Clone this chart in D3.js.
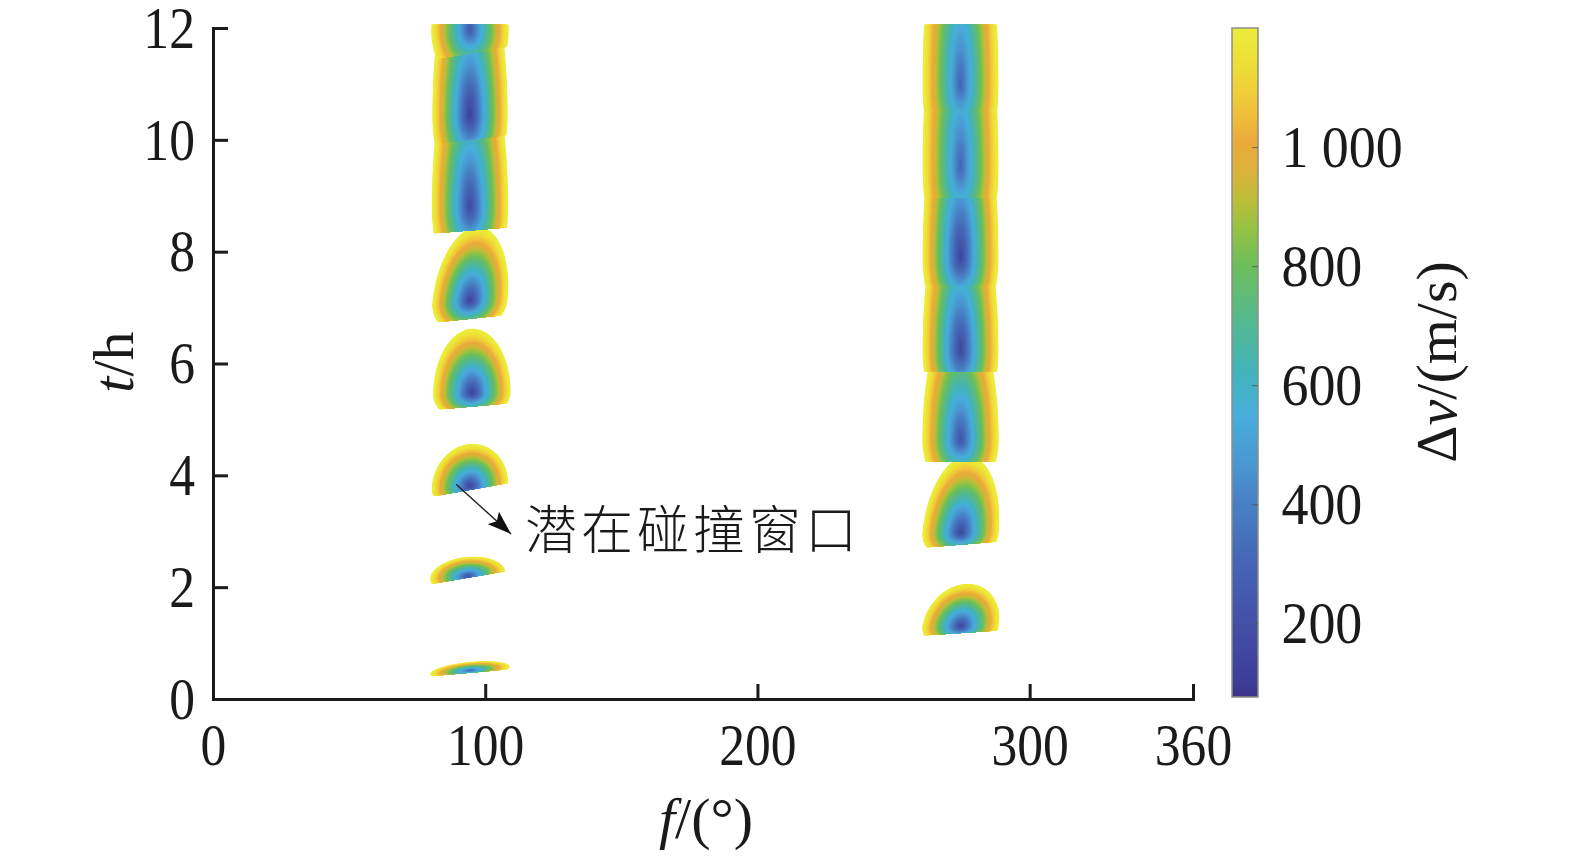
<!DOCTYPE html>
<html>
<head>
<meta charset="utf-8">
<script src="https://cdn.jsdelivr.net/npm/d3@7"></script>
<style>
  html, body { margin: 0; padding: 0; background: #fff; }
  svg { display: block; }
  .serif { font-family: 'Liberation Serif', 'Times New Roman', 'DejaVu Serif', serif; fill: #1a1a1a; }
</style>
</head>
<body>
<svg id="chart" width="1575" height="857"></svg>
<script>
// ---------------- data ----------------
const xTicks = [0, 100, 200, 300, 360];
const yTicks = [0, 2, 4, 6, 8, 10, 12];
const cbTicks = [200, 400, 600, 800, 1000];

// collision-window lobes (left column L1..L8, right column R1..R7)
const lobeF     = [94.4, 93.6, 94.4, 95.1, 94.4, 94.4, 94.4, 94.4, 274.6, 274.6, 274.6, 274.6, 274.6, 274.6, 274.6];
const lobeTMin  = [0.51, 2.20, 3.80, 5.47, 7.12, 8.80, 10.44, 11.95, 1.30, 2.97, 4.63, 6.24, 7.90, 9.51, 11.00];
const lobeVMin  = [320, 220, 150, 130, 140, 170, 120, 260, 160, 150, 220, 150, 140, 300, 300];
const lobeHalfW = [14.6, 13.8, 14.0, 14.2, 13.8, 14.0, 13.8, 14.2, 14.0, 14.0, 14.0, 13.9, 13.9, 13.9, 13.9];
const lobeUp    = [0.15, 0.34, 0.76, 1.15, 1.32, 3.0, 3.0, 3.0, 0.76, 1.38, 2.4, 3.0, 3.5, 4.0, 4.0];
const lobeDown  = [0.12, 0.30, 0.40, 0.50, 0.60, 1.5, 1.5, 1.0, 0.40, 0.50, 1.0, 1.5, 1.5, 2.0, 2.0];
const lobeBase  = [0.47, 2.17, 3.74, 5.23, 6.80, 8.38, 10.00, 11.55, 1.18, 2.76, 4.24, 5.85, 7.40, 8.96, 10.53];
const lobeTop   = [99, 99, 99, 99, 99, 10.06, 11.60, 99, 99, 99, 5.88, 7.42, 8.98, 10.55, 99];
const lobeTilt  = [0.0042, 0.0084, 0.0087, 0.0042, 0.0052, 0.004, 0.0063, 0.008, 0.0032, 0.0039, 0, 0, 0, 0, 0];
const lobeSkew  = [0.0045, 0.004, 0.004, 0.002, 0.002, 0, 0, 0, 0, 0, 0, 0, 0, 0, 0];
const lobeLean  = [0, 0, 0, 0, 2.0, 0, 0, 0, 3.5, 1.9, 0, 0, 0, 0, 0];

// colour map (Δv → colour)
const cbVals   = [76, 100, 200, 300, 400, 470, 550, 620, 700, 800, 860, 910, 960, 1010, 1060, 1130, 1200];
const cbColors = ["#3b3388", "#3d3d96", "#4350a6", "#4565b4", "#4880c4", "#4a98d2", "#48aedb", "#42b3bc",
                  "#52b894", "#6cbe5c", "#93c244", "#bcbe38", "#dcb23a", "#ebaa3b", "#f0c23a", "#eedc36", "#ecec3a"];
const vOuter = 1250;

// annotation
const annoText = "潜在碰撞窗口";
const annoF = 114.6, annoT = 2.68;
const arrowFrom = [89.3, 3.84], arrowTo = [109.5, 2.95];

// ---------------- layout ----------------
const svg = d3.select("#chart");
const x = d3.scaleLinear().domain([0, 360]).range([213, 1193]);
const y = d3.scaleLinear().domain([0, 12]).range([699, 28]);
const color = d3.scaleLinear().domain(cbVals).range(cbColors).interpolate(d3.interpolateRgb).clamp(true);
const cbY = d3.scaleLinear().domain([cbVals[0], cbVals[cbVals.length - 1]]).range([697, 28]);

const defs = svg.append("defs");

// ---------------- lobes ----------------
const plot = svg.append("g");
const line = d3.line().x(d => x(d[0])).y(d => y(d[1])).curve(d3.curveLinearClosed);
const N = 96;

lobeF.forEach((fc, i) => {
  const tilt = lobeTilt[i];
  const ext = 22;
  const topL = lobeTop[i] < 12 ? lobeTop[i] - tilt * ext : 12.06;
  const topR = lobeTop[i] < 12 ? lobeTop[i] + tilt * ext : 12.06;
  const clipPts = [
    [fc - ext, lobeBase[i] - tilt * ext],
    [fc + ext, lobeBase[i] + tilt * ext],
    [fc + ext, Math.min(topR, 12.06)],
    [fc - ext, Math.min(topL, 12.06)]
  ];
  defs.append("clipPath").attr("id", "lobeclip" + i)
    .append("path").attr("d", line(clipPts));

  const g = plot.append("g").attr("clip-path", `url(#lobeclip${i})`);
  const vMin = lobeVMin[i];
  const levels = d3.range(vOuter, vMin, -9);
  levels.forEach(v => {
    const s = (v - vMin) / (vOuter - vMin);
    const pts = d3.range(N).map(k => {
      const th = 2 * Math.PI * k / N;
      const c = Math.cos(th), sn = Math.sin(th);
      const dt = sn >= 0 ? s * lobeUp[i] * sn : s * lobeDown[i] * sn;
      const df = s * lobeHalfW[i] * c + lobeLean[i] * dt;
      return [fc + df, lobeTMin[i] + dt + lobeSkew[i] * df];
    });
    g.append("path").attr("d", line(pts)).attr("fill", color(v - 4.5));
  });
});

// ---------------- axes ----------------
const fontSize = 60;
const sx = 0.86;

const yAxis = svg.append("g").attr("transform", `translate(${x(0)},0)`)
  .call(d3.axisLeft(y).tickValues(yTicks).tickSizeInner(-15).tickSizeOuter(0).tickPadding(21));
const xAxis = svg.append("g").attr("transform", `translate(0,${y(0)})`)
  .call(d3.axisBottom(x).tickValues(xTicks).tickSizeInner(-15).tickSizeOuter(0).tickPadding(23));

[yAxis, xAxis].forEach(ax => {
  ax.select(".domain").attr("stroke", "#1a1a1a").attr("stroke-width", 3).attr("stroke-linecap", "square");
  ax.selectAll(".tick line").attr("stroke", "#1a1a1a").attr("stroke-width", 3);
  ax.selectAll(".tick text")
    .attr("class", "serif")
    .attr("font-size", fontSize)
    .attr("fill", "#1a1a1a")
    .attr("transform", `scale(${sx},1)`);
});

// axis titles
svg.append("text").attr("class", "serif").attr("font-size", 58)
  .attr("text-anchor", "middle")
  .attr("transform", "translate(133,362) rotate(-90)")
  .call(t => {
    t.append("tspan").attr("font-style", "italic").text("t");
    t.append("tspan").text("/h");
  });

svg.append("text").attr("class", "serif").attr("font-size", 58)
  .attr("text-anchor", "middle")
  .attr("x", 706).attr("y", 838)
  .call(t => {
    t.append("tspan").attr("font-style", "italic").text("f");
    t.append("tspan").text("/(°)");
  });

// ---------------- colour bar ----------------
const cbX = 1232, cbW = 26;
const grad = defs.append("linearGradient").attr("id", "cbgrad")
  .attr("x1", 0).attr("y1", 1).attr("x2", 0).attr("y2", 0);
cbVals.forEach((v, k) => {
  grad.append("stop")
    .attr("offset", (v - cbVals[0]) / (cbVals[cbVals.length - 1] - cbVals[0]))
    .attr("stop-color", cbColors[k]);
});
svg.append("rect").attr("x", cbX).attr("y", cbY(1200)).attr("width", cbW)
  .attr("height", cbY(cbVals[0]) - cbY(1200))
  .attr("fill", "url(#cbgrad)").attr("stroke", "#8f8f86").attr("stroke-width", 1.5);

const cbAxis = svg.append("g").attr("transform", `translate(${cbX + cbW},0)`)
  .call(d3.axisRight(cbY).tickValues(cbTicks).tickSizeInner(-6).tickSizeOuter(0).tickPadding(26)
    .tickFormat(d => d >= 1000 ? d3.format(",")(d).replace(",", " ") : String(d)));
cbAxis.select(".domain").remove();
cbAxis.selectAll(".tick line").attr("stroke", "#555").attr("stroke-width", 1.2).attr("opacity", 0.7);
cbAxis.selectAll(".tick text")
  .attr("class", "serif").attr("font-size", fontSize).attr("fill", "#1a1a1a")
  .attr("transform", `scale(0.9,1)`);

svg.append("text").attr("class", "serif").attr("font-size", 58)
  .attr("text-anchor", "middle")
  .attr("transform", "translate(1456,362) rotate(-90)")
  .call(t => {
    t.append("tspan").text("Δ");
    t.append("tspan").attr("font-style", "italic").text("v");
    t.append("tspan").text("/(m/s)");
  });

// ---------------- annotation ----------------
defs.append("marker").attr("id", "arrowhead")
  .attr("markerUnits", "userSpaceOnUse")
  .attr("viewBox", "0 0 20 14").attr("refX", 20).attr("refY", 7)
  .attr("markerWidth", 24).attr("markerHeight", 17).attr("orient", "auto")
  .append("path").attr("d", "M0,0 L20,7 L0,14 L4,7 Z").attr("fill", "#111");

svg.append("line")
  .attr("x1", x(arrowFrom[0])).attr("y1", y(arrowFrom[1]))
  .attr("x2", x(arrowTo[0])).attr("y2", y(arrowTo[1]))
  .attr("stroke", "#222").attr("stroke-width", 1.4)
  .attr("marker-end", "url(#arrowhead)");

svg.append("text")
  .attr("x", x(annoF)).attr("y", y(annoT))
  .attr("font-family", "'Noto Sans CJK SC', sans-serif")
  .attr("font-size", 52).attr("font-weight", 300)
  .attr("letter-spacing", 4)
  .attr("fill", "#1a1a1a")
  .text(annoText);
</script>
</body>
</html>
